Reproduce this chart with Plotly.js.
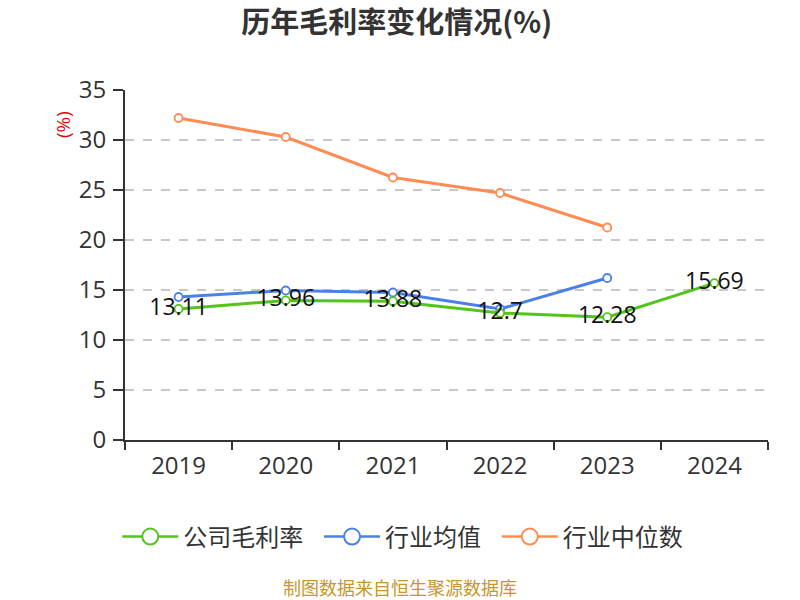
<!DOCTYPE html>
<html><head><meta charset="utf-8">
<script src="https://cdn.plot.ly/plotly-3.0.1.min.js"></script>
<style>body{margin:0;background:#fff}#c{width:800px;height:600px}</style>
</head><body><div id="c"></div>
<script>
const years = ['2019','2020','2021','2022','2023','2024'];
const company = [13.11, 13.96, 13.88, 12.7, 12.28, 15.69];
const industryAvg = [14.3, 14.95, 14.75, 13.1, 16.2, null];
const industryMedian = [32.2, 30.3, 26.25, 24.7, 21.25, null];
const names = ['公司毛利率','行业均值','行业中位数'];
const colors = ['#52c41a','#4a80e8','#ff8c55'];
const font = '"Open Sans", "Noto Sans CJK SC", sans-serif';
const cjk = '"Noto Sans CJK SC", "Open Sans", sans-serif';

function tr(y, i, withText){
  return {x: years, y: y, type:'scatter', mode: withText ? 'lines+markers+text' : 'lines+markers',
    name: names[i], showlegend:false,
    line:{color:colors[i], width:3},
    marker:{symbol:'circle', size:8, color:'#fff', line:{color:colors[i], width:1.8}},
    text: withText ? y.map(v=>String(v)) : undefined,
    textposition:'middle center',
    textfont:{size:23, color:'#111', family:font},
    cliponaxis:false, hoverinfo:'x+y'};
}
function leg(i){
  return {x:[null], y:[null], type:'scatter', mode:'lines+markers', name:names[i] + '\u00a0\u00a0',
    line:{color:colors[i], width:2.5},
    marker:{symbol:'circle', size:20, color:'#fff', line:{color:colors[i], width:2}}};
}
const data = [tr(industryMedian,2,false), tr(industryAvg,1,false), tr(company,0,true), leg(0), leg(1), leg(2)];
const layout = {
  width:800, height:600,
  margin:{l:125, r:32, t:90, b:160},
  paper_bgcolor:'#fff', plot_bgcolor:'#fff',
  font:{family:font, color:'#333'},
  title:{text:'<b>历年毛利率变化情况(%)</b>', x:0.496, xanchor:'center', y:0.962, yanchor:'middle', font:{size:29, color:'#333', family:cjk}},
  xaxis:{type:'category', range:[-0.5,5.5], showgrid:false, showline:true, linecolor:'#333', linewidth:2,
    ticks:'outside', tickson:'boundaries', ticklen:8, tickwidth:2, tickcolor:'#333', ticklabelstandoff:3,
    tickfont:{size:24, color:'#333'}, fixedrange:true},
  yaxis:{range:[0,35], dtick:5, showgrid:true, gridcolor:'#c8c8c8', griddash:'dash', gridwidth:1.5,
    showline:true, linecolor:'#333', linewidth:2, ticks:'outside', ticklen:10, tickwidth:2, tickcolor:'#333',
    tickfont:{size:24, color:'#333'}, zeroline:false, fixedrange:true, ticklabelstandoff:2},
  legend:{orientation:'h', x:-0.012, xanchor:'left', y:-0.277, yanchor:'middle', font:{size:24, color:'#333', family:cjk}, itemwidth:56},
  annotations:[
    {text:'(%)', xref:'paper', yref:'paper', x:-0.0964, xanchor:'center', y:0.9, yanchor:'middle', textangle:-90, showarrow:false, font:{size:19, color:'#e00'}},
    {text:'制图数据来自恒生聚源数据库', xref:'paper', yref:'paper', x:0.4277, xanchor:'center', y:-0.42, yanchor:'middle', showarrow:false, font:{size:18, color:'#c8962a', family:cjk}}
  ]
};
Plotly.newPlot('c', data, layout, {displayModeBar:false, staticPlot:true});
</script></body></html>
